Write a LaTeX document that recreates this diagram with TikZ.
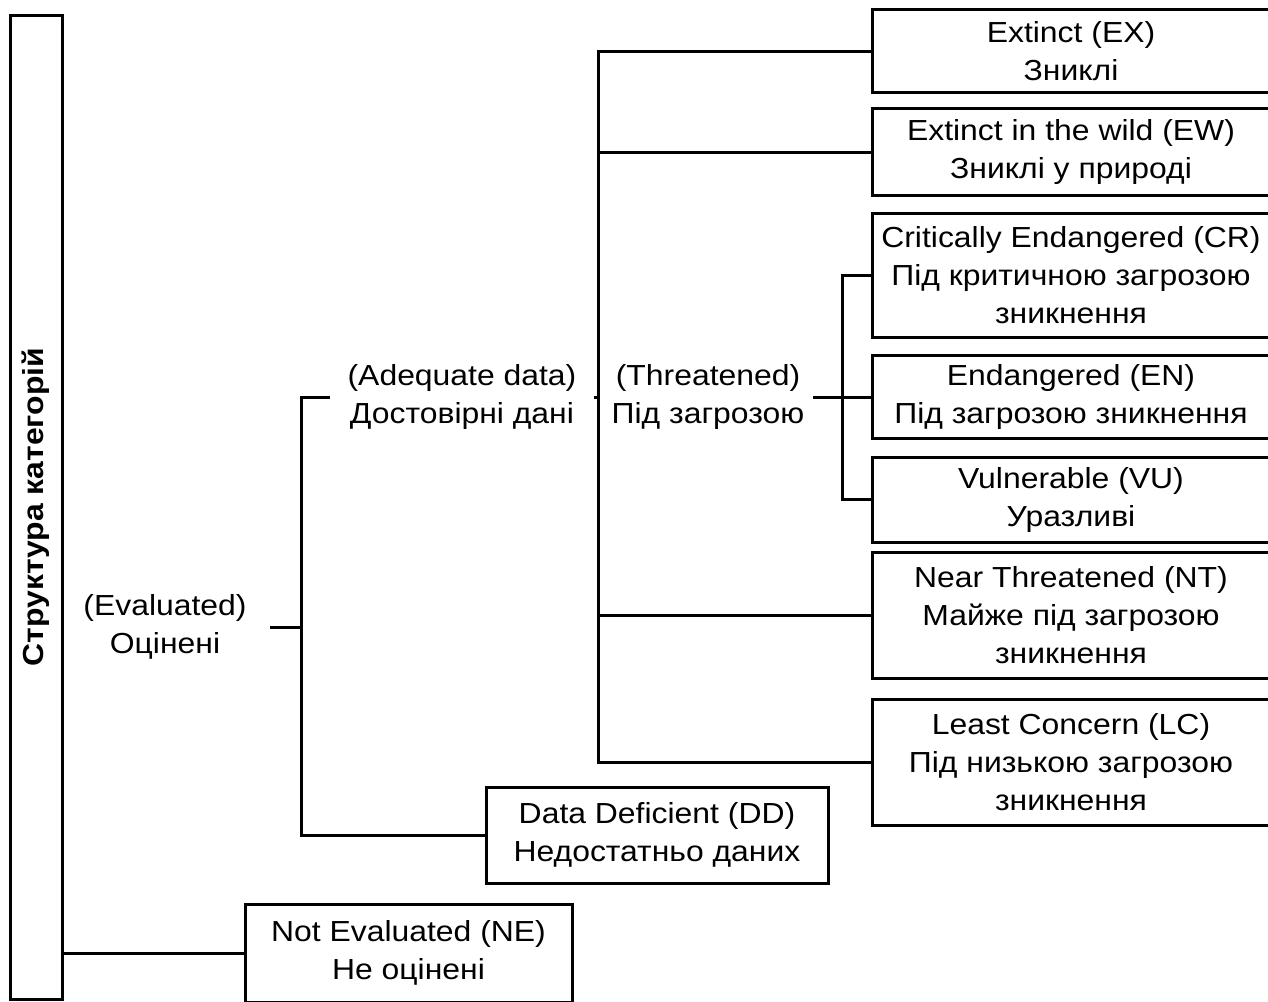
\documentclass[tikz,border=0pt]{standalone}
\usepackage{fontspec}
\setmainfont[FakeStretch=1.1]{Liberation Sans}
\usepackage{tikz}
\usetikzlibrary{calc,positioning}
\tikzset{
  link/.style={line width=1.5pt, black},
  catbox/.style={draw, line width=1.5pt, align=center, inner sep=0pt,
                 minimum width=199pt, font=\fontsize{14.5pt}{19pt}\selectfont},
  glabel/.style={align=center, inner sep=0pt, minimum height=40pt,
                 font=\fontsize{14.5pt}{19pt}\selectfont},
  rootbox/.style={draw, line width=1.5pt, rotate=90, inner sep=0pt,
                  minimum width=492pt, minimum height=26pt,
                  font=\fontsize{14.5pt}{19pt}\selectfont\bfseries},
}

\begin{document}
\begin{tikzpicture}[x=0.5pt, y=-0.5pt]
  \useasboundingbox (0,0) rectangle (1268,1001);
  \clip (0,0) rectangle (1268,1001);

  \node[rootbox] (root) at (36,507) {Структура категорій};

  \node[glabel, minimum width=105pt] (eval) at (165,627) {(Evaluated)\\Оцінені};
  \node[glabel, minimum width=132pt] (adq) at (462,397) {(Adequate data)\\Достовірні дані};
  \node[glabel, minimum width=105pt] (thr) at (708,397) {(Threatened)\\Під загрозою};

  \node[catbox, minimum height=41.5pt] (ex) at (1071,51) {Extinct (EX)\\Зниклі};
  \node[catbox, minimum height=43.5pt] (ew) at (1071,152) {Extinct in the wild (EW)\\Зниклі у природі};
  \node[catbox, minimum height=62pt] (cr) at (1071,275)
    {Critically Endangered (CR)\\Під критичною загрозою\\зникнення};
  \node[catbox, minimum height=41.5pt] (en) at (1071,397) {Endangered (EN)\\Під загрозою зникнення};
  \node[catbox, minimum height=42.5pt] (vu) at (1071,499.5) {Vulnerable (VU)\\Уразливі};
  \node[catbox, minimum height=63pt] (nt) at (1071,615)
    {Near Threatened (NT)\\Майже під загрозою\\зникнення};
  \node[catbox, minimum height=63pt] (lc) at (1071,762)
    {Least Concern (LC)\\Під низькою загрозою\\зникнення};

  \node[catbox, minimum width=171pt, minimum height=48pt] (dd) at (657,835)
    {Data Deficient (DD)\\Недостатньо даних};
  \node[catbox, minimum width=163.5pt, minimum height=49pt] (ne) at (408.5,953)
    {Not Evaluated (NE)\\Не оцінені};

  \coordinate (evbus) at (301,0);
  \coordinate (adbus) at (598,0);
  \coordinate (thbus) at (842,0);

  \draw[link] (ne.west) -- (ne.west -| root.south);
  \draw[link] (eval.east) -- (eval.east -| evbus);
  \draw[link] (adq.west) -| (dd.west -| evbus) -- (dd.west);
  \draw[link] (ex.west) -| (lc.west -| adbus) -- (lc.west);
  \draw[link] (ew.west) -- (ew.west -| adbus);
  \draw[link] (nt.west) -- (nt.west -| adbus);
  \draw[link] (adq.east) -- (adq.east -| adbus);
  \draw[link] (cr.west) -| (vu.west -| thbus) -- (vu.west);
  \draw[link] (thr.east) -- (en.west);
\end{tikzpicture}
\end{document}
